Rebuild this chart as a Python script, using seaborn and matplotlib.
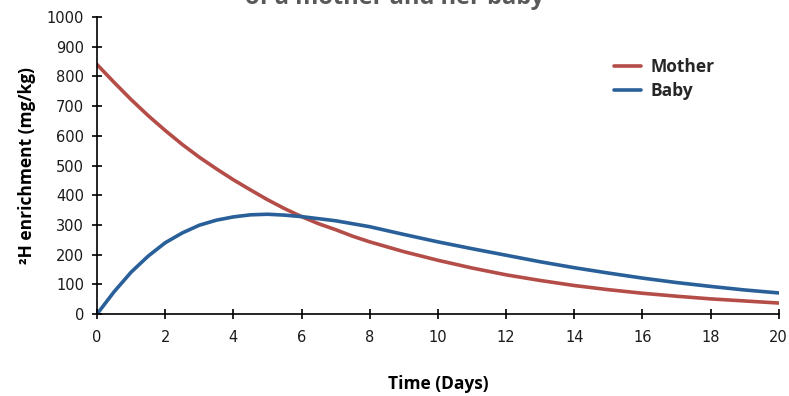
import numpy as np
import pandas as pd
import matplotlib
matplotlib.use("Agg")
import matplotlib.pyplot as plt
import seaborn as sns

# Data
days = [0, 0.5, 1, 1.5, 2, 2.5, 3, 3.5, 4, 4.5, 5, 5.5, 6, 6.5, 7, 7.5, 8,
        9, 10, 11, 12, 13, 14, 15, 16, 17, 18, 19, 20]
mother = [840, 780, 722, 668, 618, 571, 528, 489, 452, 418, 385, 355, 328, 304, 284, 262, 243,
          210, 181, 155, 132, 113, 96, 82, 70, 60, 51, 44, 37]
baby = [0, 75, 141, 195, 240, 273, 299, 316, 327, 334, 336, 333, 328, 321, 314, 304, 294,
        268, 243, 220, 198, 176, 156, 138, 121, 106, 93, 81, 71]
series_names = ["Mother", "Baby"]
x_ticks = list(range(0, 21, 2))
y_ticks = list(range(0, 1001, 100))
title_text = "of a mother and her baby"
x_label = "Time (Days)"
y_label = "²H enrichment (mg/kg)"

df = pd.DataFrame({
    "Time": days * 2,
    "Value": mother + baby,
    "Series": [series_names[0]] * len(days) + [series_names[1]] * len(days),
})

sns.set_theme(style="white")
plt.rcParams["font.family"] = ["DejaVu Sans"]
plt.rcParams["xtick.bottom"] = True
plt.rcParams["ytick.left"] = True

fig = plt.figure(figsize=(7.89, 3.96), dpi=100)
ax = fig.add_axes([0.123, 0.207, 0.864, 0.750])

palette = {"Mother": "#B44D48", "Baby": "#2A6099"}
sns.lineplot(data=df, x="Time", y="Value", hue="Series", palette=palette,
             linewidth=2.6, ax=ax, legend=True)

ax.set_xlim(0, 20)
ax.set_ylim(0, 1000)
ax.set_xticks(x_ticks)
ax.set_yticks(y_ticks)
ax.tick_params(axis="both", which="major", bottom=True, left=True,
               direction="inout", length=6.5, width=1.2,
               color="black", labelsize=10.5, labelcolor="#1a1a1a")
ax.tick_params(axis="x", pad=8)
ax.tick_params(axis="y", pad=6)
for side in ["top", "right"]:
    ax.spines[side].set_visible(False)
for side in ["left", "bottom"]:
    ax.spines[side].set_color("black")
    ax.spines[side].set_linewidth(1.2)

lab_font = dict(family=["Open Sans", "DejaVu Sans"], weight="bold", size=12.5, color="black")
ax.set_xlabel(x_label, labelpad=22, **lab_font)
ax.set_ylabel(y_label, labelpad=8, **lab_font)

handles, labels = ax.get_legend_handles_labels()
leg = ax.legend(handles, labels, loc="upper left", bbox_to_anchor=(0.735, 0.915),
                frameon=False, handlelength=1.55, handletextpad=0.55,
                labelspacing=0.38, prop=dict(family=["Open Sans", "DejaVu Sans"],
                                              weight="bold", size=12.5))

fig.text(395 / 789, 1 - 4 / 396, title_text, ha="center", va="baseline",
         fontsize=17, fontweight="bold", color="#595959",
         family=["Open Sans", "DejaVu Sans"])

fig.savefig("out.png", dpi=100)
